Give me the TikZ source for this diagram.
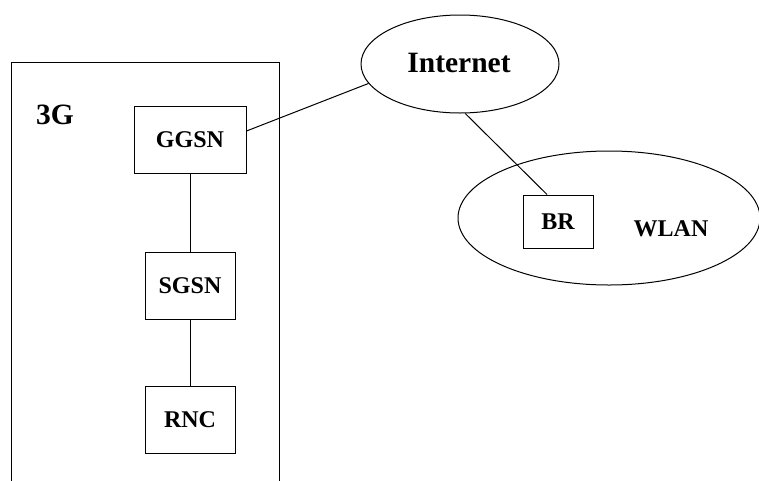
\documentclass[tikz,border=0pt]{standalone}
\usepackage{fontspec}
\setmainfont{Liberation Serif}
\usetikzlibrary{shapes.geometric,calc}
\begin{document}
\begin{tikzpicture}[x=1pt,y=-1pt,line width=1pt,
  box/.style={draw,rectangle,inner sep=0pt,font=\bfseries\fontsize{24}{24}\selectfont},
  cloud/.style={draw,ellipse,inner sep=0pt},
  lbl/.style={inner sep=0pt,font=\bfseries\fontsize{24}{24}\selectfont},
  biglbl/.style={inner sep=0pt,font=\bfseries\fontsize{29.5}{29.5}\selectfont}]
\useasboundingbox (0,0) rectangle (759,480);
% 3G frame
\draw (11,490) -- (11,62) -- (279,62) -- (279,490);
\node[biglbl] (g3) at (55,115) {3G};
% 3G nodes
\node[box,minimum width=112pt,minimum height=67pt] (GGSN) at (190,139.5) {GGSN};
\node[box,minimum width=90pt,minimum height=67pt] (SGSN) at (190,285.5) {SGSN};
\node[box,minimum width=90pt,minimum height=67pt] (RNC) at (190,419.5) {RNC};
% Internet
\node[cloud,minimum width=198pt,minimum height=98pt] (Internet) at (460,64) {};
\node[biglbl] (itext) at (459,63) {Internet};
% WLAN
\node[cloud,minimum width=302pt,minimum height=134pt] (WLAN) at (609,218) {};
\node[box,minimum width=70pt,minimum height=53pt] (BR) at (558,221.5) {BR};
\node[lbl] (wtext) at (671,229) {WLAN};
% connectors
\draw (GGSN.south) -- (SGSN.north);
\draw (SGSN.south) -- (RNC.north);
\draw ([yshift=8.5pt]GGSN.east) -- (Internet.192);
\draw (Internet.276) -- ([xshift=-11pt]BR.north);
\end{tikzpicture}
\end{document}
